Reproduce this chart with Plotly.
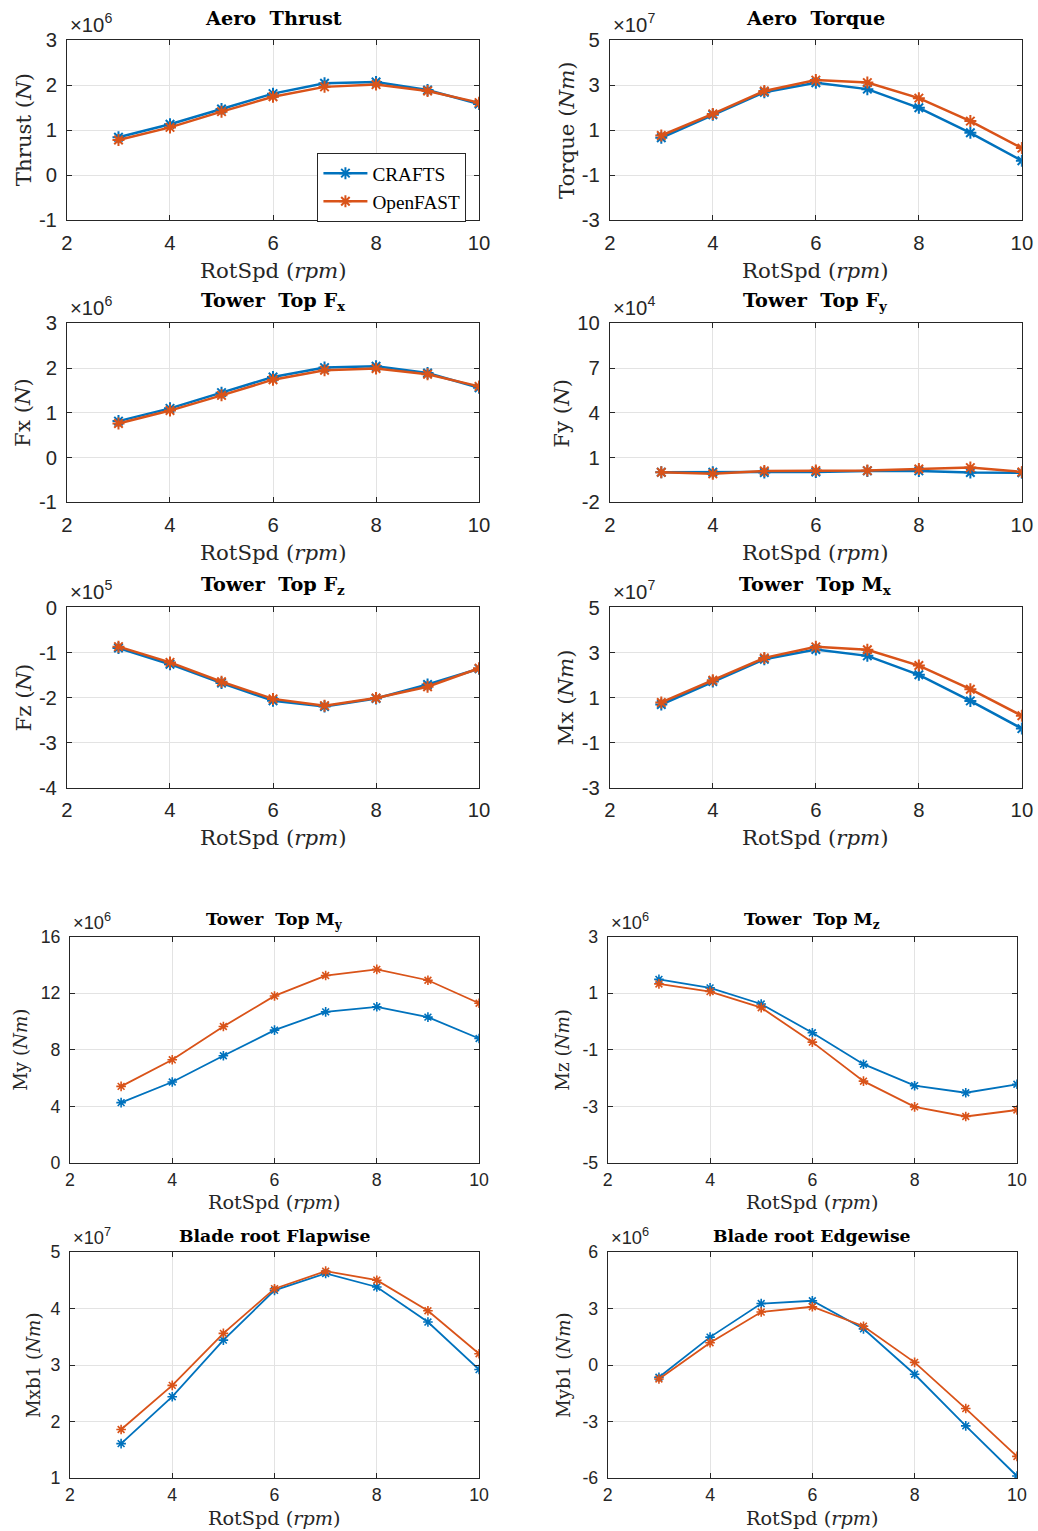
import plotly.graph_objects as go

# ---------------- data (values in units of the axis multiplier) ----------------
rpm = [3, 4, 5, 6, 7, 8, 9, 10]

thrust_crafts = [0.84, 1.13, 1.47, 1.81, 2.04, 2.07, 1.89, 1.58]
thrust_openfast = [0.78, 1.06, 1.41, 1.74, 1.96, 2.01, 1.87, 1.61]
torque_crafts = [0.66, 1.68, 2.68, 3.10, 2.82, 1.99, 0.88, -0.36]
torque_openfast = [0.76, 1.72, 2.74, 3.22, 3.11, 2.42, 1.40, 0.20]
fx_crafts = [0.815, 1.10, 1.45, 1.80, 2.01, 2.04, 1.89, 1.56]
fx_openfast = [0.76, 1.05, 1.39, 1.74, 1.95, 1.99, 1.86, 1.59]
fy_crafts = [0.02, 0.02, 0.00, 0.04, 0.11, 0.11, 0.00, -0.02]
fy_openfast = [0.02, -0.09, 0.11, 0.13, 0.13, 0.24, 0.33, 0.04]
fz_crafts = [-0.90, -1.26, -1.68, -2.07, -2.20, -2.02, -1.71, -1.36]
fz_openfast = [-0.87, -1.22, -1.65, -2.03, -2.18, -2.01, -1.76, -1.35]
mx_crafts = [0.69, 1.71, 2.70, 3.13, 2.85, 2.01, 0.85, -0.38]
mx_openfast = [0.78, 1.77, 2.76, 3.25, 3.12, 2.42, 1.37, 0.19]
my_crafts = [4.26, 5.72, 7.58, 9.39, 10.68, 11.04, 10.31, 8.80]
my_openfast = [5.41, 7.29, 9.65, 11.81, 13.25, 13.69, 12.92, 11.29]
mz_crafts = [1.49, 1.19, 0.62, -0.40, -1.51, -2.27, -2.52, -2.22]
mz_openfast = [1.33, 1.06, 0.49, -0.73, -2.11, -3.02, -3.36, -3.13]
mxb1_crafts = [1.61, 2.44, 3.44, 4.32, 4.62, 4.38, 3.76, 2.92]
mxb1_openfast = [1.86, 2.64, 3.56, 4.35, 4.66, 4.50, 3.96, 3.20]
myb1_crafts = [-0.65, 1.48, 3.26, 3.41, 1.92, -0.49, -3.23, -5.89]
myb1_openfast = [-0.74, 1.18, 2.81, 3.09, 2.06, 0.14, -2.31, -4.85]

titles = ["Aero  Thrust", "Aero  Torque", "Tower  Top F<sub>x</sub>", "Tower  Top F<sub>y</sub>",
          "Tower  Top F<sub>z</sub>", "Tower  Top M<sub>x</sub>", "Tower  Top M<sub>y</sub>",
          "Tower  Top M<sub>z</sub>", "Blade root Flapwise", "Blade root Edgewise"]
ylabels = ["Thrust (<i>N</i>)", "Torque (<i>Nm</i>)", "Fx (<i>N</i>)", "Fy (<i>N</i>)",
           "Fz (<i>N</i>)", "Mx (<i>Nm</i>)", "My (<i>Nm</i>)", "Mz (<i>Nm</i>)",
           "Mxb1 (<i>Nm</i>)", "Myb1 (<i>Nm</i>)"]
exponents = [6, 7, 6, 4, 5, 7, 6, 6, 7, 6]
yticks = [[-1, 0, 1, 2, 3], [-3, -1, 1, 3, 5], [-1, 0, 1, 2, 3], [-2, 1, 4, 7, 10],
          [-4, -3, -2, -1, 0], [-3, -1, 1, 3, 5], [0, 4, 8, 12, 16], [-5, -3, -1, 1, 3],
          [1, 2, 3, 4, 5], [-6, -3, 0, 3, 6]]
xticks = [2, 4, 6, 8, 10]
xlabel = "RotSpd (<i>rpm</i>)"
series_names = ["CRAFTS", "OpenFAST"]
crafts = [thrust_crafts, torque_crafts, fx_crafts, fy_crafts, fz_crafts, mx_crafts,
          my_crafts, mz_crafts, mxb1_crafts, myb1_crafts]
openfast = [thrust_openfast, torque_openfast, fx_openfast, fy_openfast, fz_openfast,
            mx_openfast, my_openfast, mz_openfast, mxb1_openfast, myb1_openfast]

# ---------------- layout ----------------
# target positions are given in screenshot pixels; the captured page shows the
# figure at an 8px body offset and a ~0.986 scale, so convert accordingly
W, H = 1052, 1552
OFF = 8
AXS, CXS = 0.986, -3.0
AYS, CYS = 0.9851, 3.1
K = 1 / 0.986  # size compensation


def px(s):
    return ((s - CXS) / AXS - OFF) / W


def py(s):
    return 1 - ((s - CYS) / AYS - OFF) / H


boxes = [(66, 40, 479, 220), (610, 40, 1023, 220),
         (66, 323, 479, 502), (610, 323, 1023, 502),
         (66, 607, 479, 787), (610, 607, 1023, 787),
         (69, 936, 479, 1162), (608, 936, 1018, 1162),
         (69, 1251, 479, 1477), (608, 1251, 1018, 1477)]
ylabel_x = [22, 566, 22, 562, 22, 566, 20, 563, 32, 563]
BLUE, ORANGE = "#0072BD", "#D95319"
AX = "#262626"
SERIF = "DejaVu Serif"
SANS = "Liberation Sans"

fig = go.Figure()
annotations = []
layout = {}
for i in range(10):
    l, t, r, b = boxes[i]
    top = i < 6
    lw = 2.5 if top else 1.8
    ms = 10 if top else 8
    xa = "x" if i == 0 else f"x{i+1}"
    ya = "y" if i == 0 else f"y{i+1}"
    for name, vals, col in [(series_names[0], crafts[i], BLUE), (series_names[1], openfast[i], ORANGE)]:
        fig.add_trace(go.Scatter(
            x=rpm, y=vals, name=name, mode="lines+markers", xaxis=xa, yaxis=ya,
            showlegend=(i == 0),
            line=dict(color=col, width=lw),
            marker=dict(symbol="asterisk-open", size=ms, color=col,
                        line=dict(color=col, width=2 if top else 1.6)),
        ))
    tickfs = (20 if top else 17.5) * K
    common = dict(showline=True, linecolor=AX, linewidth=1, mirror="ticks", ticks="inside",
                  ticklen=5, tickcolor=AX, showgrid=True, gridcolor="#e3e3e3", gridwidth=1,
                  zeroline=False, tickfont=dict(family=SANS, size=tickfs, color=AX))
    layout["xaxis" if i == 0 else f"xaxis{i+1}"] = dict(
        domain=[px(l), px(r)], anchor=ya, range=[2, 10], tickvals=xticks,
        ticktext=[str(v) for v in xticks], ticklabelstandoff=4 if top else 1, **common)
    layout["yaxis" if i == 0 else f"yaxis{i+1}"] = dict(
        domain=[py(b), py(t)], anchor=xa, range=[yticks[i][0], yticks[i][-1]],
        tickvals=yticks[i], ticktext=[str(v) for v in yticks[i]], ticklabelstandoff=5, **common)
    cx = (l + r) / 2
    # title
    annotations.append(dict(text=f"<b>{titles[i]}</b>", x=px(cx), y=py(t - (22 if top else 16)),
                            xref="paper", yref="paper", xanchor="center", yanchor="middle",
                            showarrow=False,
                            font=dict(family=SERIF, size=(19 if top else 17) * K, color="black")))
    # x label
    annotations.append(dict(text=xlabel, x=px(cx), y=py(b + (50 if top else 40)),
                            xref="paper", yref="paper", xanchor="center", yanchor="middle",
                            showarrow=False, font=dict(family=SERIF, size=(21 if top else 19) * K, color=AX)))
    # y label
    annotations.append(dict(text=ylabels[i], x=px(ylabel_x[i]), y=py((t + b) / 2),
                            xref="paper", yref="paper", xanchor="center", yanchor="middle",
                            textangle=-90, showarrow=False,
                            font=dict(family=SERIF, size=(21 if top else 18) * K, color=AX)))
    # exponent
    annotations.append(dict(text=f"×10<sup>{exponents[i]}</sup>", x=px(l + 1), y=py(t - 2),
                            xref="paper", yref="paper", xanchor="left", yanchor="bottom",
                            showarrow=False, font=dict(family=SANS, size=(20 if top else 18) * K, color=AX)))

fig.update_layout(
    width=W, height=H, margin=dict(l=0, r=0, t=0, b=0),
    paper_bgcolor="white", plot_bgcolor="white",
    annotations=annotations,
    legend=dict(x=px(317), y=py(153), xanchor="left", yanchor="top",
                bordercolor=AX, borderwidth=1, bgcolor="white",
                font=dict(family="Liberation Serif", size=19 * K, color="black"),
                tracegroupgap=0, itemwidth=44),
    **layout,
)
fig.write_html("out.html")
